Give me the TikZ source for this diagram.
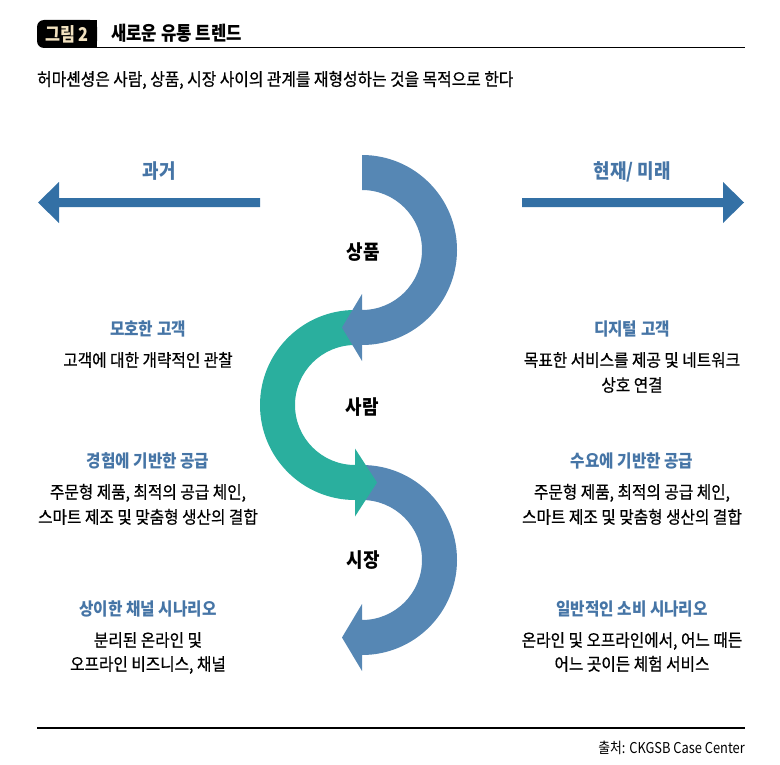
\documentclass[tikz,border=0pt]{standalone}
\usepackage{fontspec}
\setmainfont{Noto Sans CJK KR}
\newfontfamily\cfont[FakeStretch=0.9]{Noto Sans CJK KR}
\newfontfamily\mfont[FakeStretch=0.9, FakeBold=0.6]{Noto Sans CJK KR}
\newfontfamily\tfont[FakeStretch=0.86]{Noto Sans CJK KR}
\definecolor{arrowblue}{RGB}{51,112,165}
\definecolor{headblue}{RGB}{70,117,166}
\definecolor{arcblue}{RGB}{86,135,180}
\definecolor{arcteal}{RGB}{42,175,158}
\definecolor{cream}{RGB}{242,226,192}
\tikzset{
  bodytxt/.style={font=\mfont\fontsize{17.5}{20}\selectfont, text=black, inner sep=0pt, text height=13bp, text depth=2bp},
  headtxt/.style={font=\cfont\bfseries\fontsize{17.5}{20}\selectfont, text=headblue, inner sep=0pt, text height=13bp, text depth=2bp},
  centertxt/.style={font=\cfont\bfseries\fontsize{20}{22}\selectfont, text=black, inner sep=0pt, text height=15bp, text depth=2bp},
  timetxt/.style={font=\cfont\bfseries\fontsize{20}{22}\selectfont, text=headblue, inner sep=0pt, text height=15bp, text depth=2bp},
}
\begin{document}
\begin{tikzpicture}[x=1bp,y=-1bp]
\useasboundingbox (0,0) rectangle (780,765);
% header
\fill[black, rounded corners=7bp] (37,20) rectangle (97,48);
\fill[black] (75,20) rectangle (97,48);
\node[font=\tfont\bfseries\fontsize{19}{20}\selectfont, text=cream, inner sep=0pt] (fig) at (67,34) {그림 2};
\node[anchor=west, font=\tfont\bfseries\fontsize{19.5}{22}\selectfont, inner sep=0pt] (title) at (111,33) {새로운 유통 트렌드};
\draw[line width=1bp] (97,47.5) -- (745,47.5);
\node[anchor=west, font=\mfont\fontsize{17.6}{20}\selectfont, inner sep=0pt] (sub) at (37,80) {허마셴셩은 사람, 상품, 시장 사이의 관계를 재형성하는 것을 목적으로 한다};

% horizontal arrows
\fill[arrowblue] (260,198) -- (59,198) -- (59,182) -- (38,202.5) -- (59,223) -- (59,207) -- (260,207) -- cycle;
\fill[arrowblue] (522,198) -- (723,198) -- (723,182) -- (744,202.5) -- (723,223) -- (723,207) -- (522,207) -- cycle;
\node[timetxt] (past) at (159,172) {과거};
\node[timetxt] (future) at (632,172) {현재/ 미래};

% S-shaped arrows
\fill[arcblue] (362,465) arc[start angle=-90, end angle=90, radius=95] -- (362,671) -- (342,637.5) -- (362,604) -- (362,620) arc[start angle=90, end angle=-90, radius=60] -- cycle;
\fill[arcteal] (355,310) arc[start angle=-90, end angle=-270, radius=95] -- (355,516.5) -- (377,482.5) -- (355,448.5) -- (355,465) arc[start angle=90, end angle=270, radius=60] -- cycle;
\fill[arcblue] (362,155) arc[start angle=-90, end angle=90, radius=95] -- (362,361) -- (342,327.5) -- (362,294) -- (362,310) arc[start angle=90, end angle=-90, radius=60] -- cycle;

\node[centertxt] (goods) at (363,253) {상품};
\node[centertxt] (people) at (362,408) {사람};
\node[centertxt] (market) at (363,561) {시장};

% left column
\node[headtxt] (l1h) at (148,330) {모호한 고객};
\node[bodytxt] (l1a) at (148,361) {고객에 대한 개략적인 관찰};
\node[headtxt] (l2h) at (148,462) {경험에 기반한 공급};
\node[bodytxt] (l2a) at (148,493) {주문형 제품, 최적의 공급 체인,};
\node[bodytxt] (l2b) at (148,518) {스마트 제조 및 맞춤형 생산의 결합};
\node[headtxt] (l3h) at (148,610) {상이한 채널 시나리오};
\node[bodytxt] (l3a) at (148,641) {분리된 온라인 및};
\node[bodytxt] (l3b) at (148,665) {오프라인 비즈니스, 채널};

% right column
\node[headtxt] (r1h) at (632,330) {디지털 고객};
\node[bodytxt] (r1a) at (632,361) {목표한 서비스를 제공 및 네트워크};
\node[bodytxt] (r1b) at (632,386) {상호 연결};
\node[headtxt] (r2h) at (632,462) {수요에 기반한 공급};
\node[bodytxt] (r2a) at (632,493) {주문형 제품, 최적의 공급 체인,};
\node[bodytxt] (r2b) at (632,518) {스마트 제조 및 맞춤형 생산의 결합};
\node[headtxt] (r3h) at (632,610) {일반적인 소비 시나리오};
\node[bodytxt] (r3a) at (632,641) {온라인 및 오프라인에서, 어느 때든};
\node[bodytxt] (r3b) at (632,665) {어느 곳이든 체험 서비스};

% footer
\draw[line width=1.2bp] (37,728) -- (745,728);
\node[anchor=east, font=\tfont\fontsize{15}{16}\selectfont, inner sep=0pt] (src) at (745,748) {출처: CKGSB Case Center};
\end{tikzpicture}
\end{document}
